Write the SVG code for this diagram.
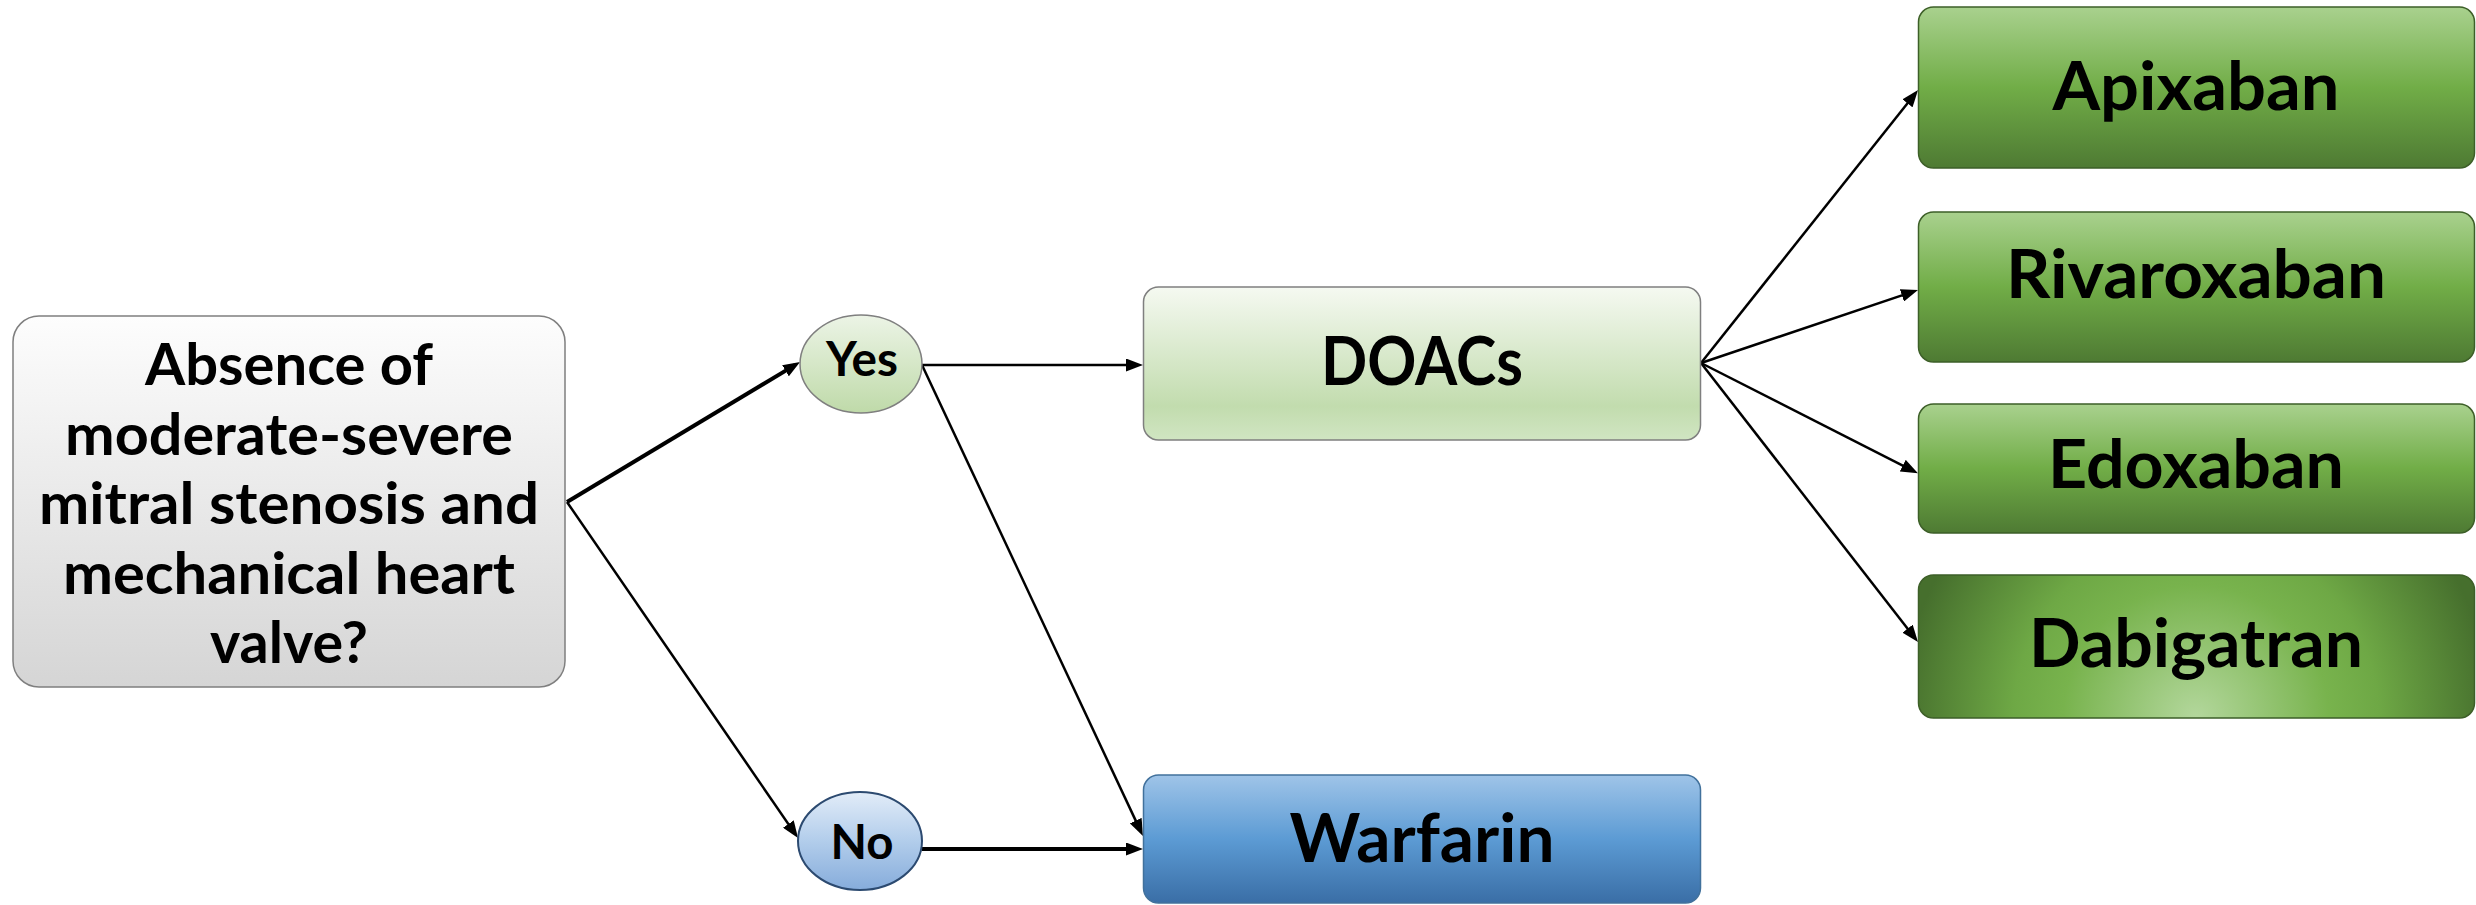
<svg xmlns="http://www.w3.org/2000/svg" width="2476" height="905" viewBox="0 0 2476 905">
<style>
text{font-family:Lato,"Open Sans","Liberation Sans",sans-serif;font-weight:700;fill:#000;text-anchor:middle}
.q{font-size:58px}
.yn{font-size:48px}
.mid{font-size:66px}
.drug{font-size:67px}
.c{fill:none;stroke:#000;stroke-width:2.5;marker-end:url(#ah)}
.thick{stroke-width:4}
</style>
<defs>
<marker id="ah" viewBox="0 0 17 13" refX="11" refY="6.5" markerWidth="17" markerHeight="13" markerUnits="userSpaceOnUse" orient="auto">
<path d="M0,0 L17,6.5 L0,13 z" fill="#000"/>
</marker>
<linearGradient id="gGray" x1="0" y1="0" x2="0" y2="1">
<stop offset="0" stop-color="#fdfdfd"/><stop offset="1" stop-color="#d5d5d5"/>
</linearGradient>
<linearGradient id="gLight" x1="0" y1="0" x2="0" y2="1">
<stop offset="0" stop-color="#f5f9f1"/><stop offset="0.78" stop-color="#c2dcae"/><stop offset="1" stop-color="#d0e5c2"/>
</linearGradient>
<linearGradient id="gYes" x1="0" y1="0" x2="0" y2="1">
<stop offset="0" stop-color="#ecf4e6"/><stop offset="1" stop-color="#bfdaa9"/>
</linearGradient>
<linearGradient id="gNo" x1="0" y1="0" x2="0" y2="1">
<stop offset="0" stop-color="#e2ecf8"/><stop offset="0.5" stop-color="#b2cdeb"/><stop offset="1" stop-color="#86acdb"/>
</linearGradient>
<linearGradient id="gBlue" x1="0" y1="0" x2="0" y2="1">
<stop offset="0" stop-color="#9fc4e8"/><stop offset="0.5" stop-color="#5c9bd4"/><stop offset="1" stop-color="#3a6ea6"/>
</linearGradient>
<linearGradient id="gGreen" x1="0" y1="0" x2="0" y2="1">
<stop offset="0" stop-color="#a9d18e"/><stop offset="0.5" stop-color="#71ad47"/><stop offset="1" stop-color="#4e7a33"/>
</linearGradient>
<radialGradient id="gDab" gradientUnits="userSpaceOnUse" cx="2196" cy="718" r="295" fx="2196" fy="718">
<stop offset="0" stop-color="#b3d79c"/><stop offset="0.45" stop-color="#78b34d"/><stop offset="0.62" stop-color="#6ea845"/><stop offset="1" stop-color="#466f2d"/>
</radialGradient>
</defs>

<g id="connectors">
<line class="c thick" x1="567" y1="502" x2="794.9" y2="365.1"/>
<line class="c" x1="567" y1="502" x2="794.6" y2="833.1"/>
<line class="c" x1="922" y1="365" x2="1137" y2="365"/>
<line class="c" x1="922" y1="365" x2="1140.4" y2="830.6"/>
<line class="c thick" x1="922" y1="849" x2="1137" y2="849"/>
<line class="c" x1="1701" y1="363" x2="1914.3" y2="94.7"/>
<line class="c" x1="1701" y1="363" x2="1912.3" y2="291.9"/>
<line class="c" x1="1701" y1="363" x2="1912.6" y2="470.6"/>
<line class="c" x1="1701" y1="363" x2="1914.3" y2="637.3"/>
</g>

<g id="question">
<rect x="13" y="316" width="552" height="371" rx="26" fill="url(#gGray)" stroke="#7f7f7f" stroke-width="1.5"/>
<text class="q" x="289" y="385" textLength="288" lengthAdjust="spacingAndGlyphs">Absence of</text>
<text class="q" x="289" y="454.5" textLength="448" lengthAdjust="spacingAndGlyphs">moderate-severe</text>
<text class="q" x="289" y="524" textLength="500" lengthAdjust="spacingAndGlyphs">mitral stenosis and</text>
<text class="q" x="289" y="593.5" textLength="452" lengthAdjust="spacingAndGlyphs">mechanical heart</text>
<text class="q" x="289" y="663" textLength="158" lengthAdjust="spacingAndGlyphs">valve?</text>
</g>

<g id="yes">
<ellipse cx="861" cy="364" rx="61" ry="49" fill="url(#gYes)" stroke="#7f7f7f" stroke-width="1.5"/>
<text class="yn" x="862" y="376" textLength="72" lengthAdjust="spacingAndGlyphs">Yes</text>
</g>

<g id="no">
<ellipse cx="860" cy="841" rx="62" ry="49" fill="url(#gNo)" stroke="#2c4a70" stroke-width="2"/>
<text class="yn" x="862" y="859" textLength="63" lengthAdjust="spacingAndGlyphs">No</text>
</g>

<g id="doacs">
<rect x="1143.5" y="287" width="557" height="153" rx="15" fill="url(#gLight)" stroke="#7f7f7f" stroke-width="1.5"/>
<text class="mid" x="1422" y="385" textLength="202" lengthAdjust="spacingAndGlyphs">DOACs</text>
</g>

<g id="warfarin">
<rect x="1143.5" y="775" width="557" height="128" rx="15" fill="url(#gBlue)" stroke="#41719c" stroke-width="1.5"/>
<text class="mid" x="1422" y="862" textLength="265" lengthAdjust="spacingAndGlyphs">Warfarin</text>
</g>

<g id="apixaban">
<rect x="1918.5" y="7" width="556" height="161" rx="15" fill="url(#gGreen)" stroke="#3d5f28" stroke-width="1.5"/>
<text class="drug" x="2196" y="110" textLength="287" lengthAdjust="spacingAndGlyphs">Apixaban</text>
</g>

<g id="rivaroxaban">
<rect x="1918.5" y="212" width="556" height="150" rx="15" fill="url(#gGreen)" stroke="#3d5f28" stroke-width="1.5"/>
<text class="drug" x="2196" y="298" textLength="380" lengthAdjust="spacingAndGlyphs">Rivaroxaban</text>
</g>

<g id="edoxaban">
<rect x="1918.5" y="404" width="556" height="129" rx="15" fill="url(#gGreen)" stroke="#3d5f28" stroke-width="1.5"/>
<text class="drug" x="2196" y="488" textLength="296" lengthAdjust="spacingAndGlyphs">Edoxaban</text>
</g>

<g id="dabigatran">
<rect x="1918.5" y="575" width="556" height="143" rx="15" fill="url(#gDab)" stroke="#3d5f28" stroke-width="1.5"/>
<text class="drug" x="2196" y="667" textLength="334" lengthAdjust="spacingAndGlyphs">Dabigatran</text>
</g>
</svg>
